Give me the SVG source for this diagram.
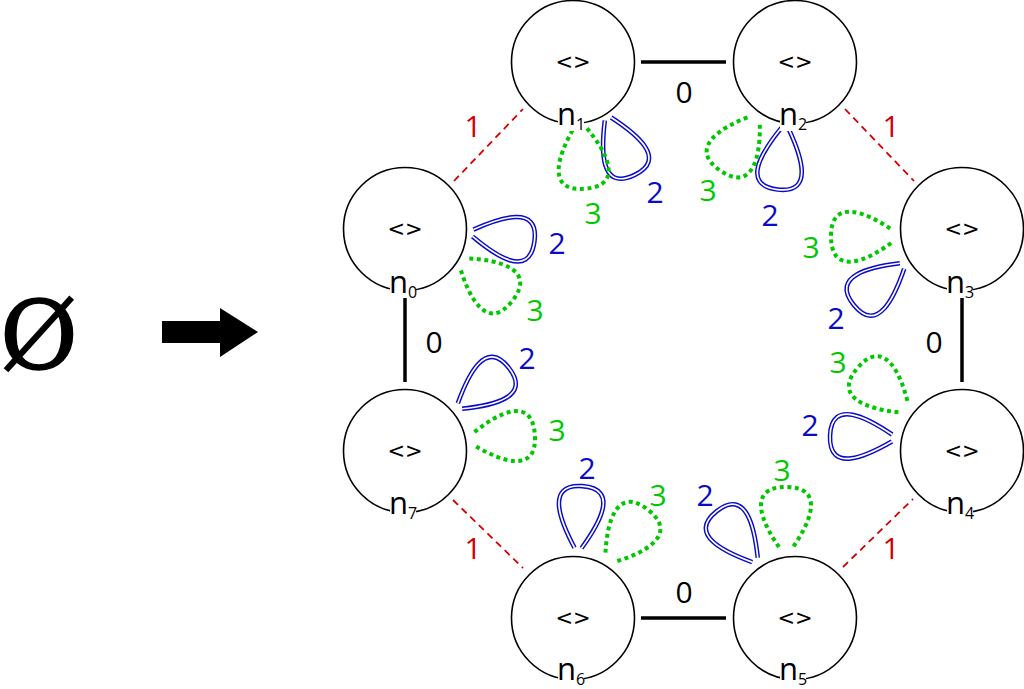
<svg xmlns="http://www.w3.org/2000/svg" xmlns:xlink="http://www.w3.org/1999/xlink" width="1024" height="689" viewBox="0 0 1024 689">
<style>
.node{fill:none;stroke:#000;stroke-width:1.6}
.nbg{fill:#fff;stroke:none}
.inner{font-family:"DejaVu Sans",sans-serif;font-size:21px;fill:#000;text-anchor:middle}
.nl{font-family:"Open Sans","Noto Sans",sans-serif;font-size:31px;fill:#000;text-anchor:middle}
.sub{font-size:16px}
.e0{stroke:#000;stroke-width:3.5;fill:none}
.e1{stroke:#d40000;stroke-width:1.8;stroke-dasharray:7 5;fill:none}
.bo{fill:none;stroke:#0a0ac8;stroke-width:4.6}
.bi{fill:none;stroke:#fff;stroke-width:1.7}
.gd{fill:none;stroke:#00c800;stroke-width:4;stroke-dasharray:4 3.5}
.lab{font-family:"Open Sans","Noto Sans",sans-serif;font-size:30px;text-anchor:middle}
.l0{fill:#000}.l1{fill:#d40000}.l2{fill:#0a0ac8}.l3{fill:#00c800}
</style>
<defs>
<g id="bl"><path class="bo" d="M0,-3.5 C24.8,-19 62,-38 62,0 C62,38 24.8,19 0,3.5"/><path class="bi" d="M0,-3.5 C24.8,-19 62,-38 62,0 C62,38 24.8,19 0,3.5"/></g>
<path id="gl" class="gd" d="M0,-7 C24,-24 60,-40 60,0 C60,40 24,24 0,7"/>
</defs>
<rect width="1024" height="689" fill="#fff"/>
<g id="start">
<text x="0" y="369" font-family="DejaVu Serif,serif" font-size="95" fill="#000" stroke="#000" stroke-width="1.4">Ø</text>
<polygon points="162,321 220,321 220,308 258,332 220,357 220,343 162,343" fill="#000"/>
</g>
<g id="connectors">
<line class="e0" x1="641" y1="62" x2="726" y2="62"/>
<line class="e0" x1="641" y1="618" x2="726" y2="618"/>
<line class="e0" x1="405" y1="297" x2="405" y2="382"/>
<line class="e0" x1="962" y1="297" x2="962" y2="382"/>
<line class="e1" x1="454" y1="181" x2="523" y2="109"/>
<line class="e1" x1="845" y1="109" x2="914" y2="181"/>
<line class="e1" x1="453" y1="500" x2="523" y2="568"/>
<line class="e1" x1="843" y1="567" x2="913" y2="499"/>
<text class="lab l0" x="684" y="103">0</text>
<text class="lab l0" x="684" y="603">0</text>
<text class="lab l0" x="434" y="353">0</text>
<text class="lab l0" x="934" y="353">0</text>
<text class="lab l1" x="473" y="137">1</text>
<text class="lab l1" x="891" y="137">1</text>
<text class="lab l1" x="473" y="559">1</text>
<text class="lab l1" x="891" y="559">1</text>
<use href="#bl" transform="translate(608,119) rotate(65)"/>
<use href="#gl" transform="translate(580,129) rotate(85)"/>
<text class="lab l3" x="593" y="224">3</text>
<text class="lab l2" x="655" y="203">2</text>
<use href="#bl" transform="translate(785,128) rotate(97)"/>
<use href="#gl" transform="translate(754,121) rotate(124)"/>
<text class="lab l2" x="770" y="226">2</text>
<text class="lab l3" x="708" y="201">3</text>
<use href="#bl" transform="translate(473,233) rotate(8)"/>
<use href="#gl" transform="translate(465,264) rotate(38)"/>
<text class="lab l2" x="557" y="254">2</text>
<text class="lab l3" x="535" y="321">3</text>
<use href="#bl" transform="translate(460,406) rotate(-38)"/>
<use href="#gl" transform="translate(475,439) rotate(-4)"/>
<text class="lab l2" x="527" y="369">2</text>
<text class="lab l3" x="557" y="441">3</text>
<use href="#gl" transform="translate(891,236) rotate(179)"/>
<use href="#bl" transform="translate(902,266) rotate(141)"/>
<text class="lab l3" x="811" y="258">3</text>
<text class="lab l2" x="836" y="329">2</text>
<use href="#gl" transform="translate(903,407) rotate(-139)"/>
<use href="#bl" transform="translate(892,438) rotate(182)"/>
<text class="lab l3" x="838" y="373">3</text>
<text class="lab l2" x="810" y="436">2</text>
<use href="#bl" transform="translate(578,548) rotate(-86)"/>
<use href="#gl" transform="translate(611,557) rotate(-52)"/>
<text class="lab l2" x="587" y="479">2</text>
<text class="lab l3" x="658" y="506">3</text>
<use href="#bl" transform="translate(755,560) rotate(-128)"/>
<use href="#gl" transform="translate(786,547) rotate(-90)"/>
<text class="lab l2" x="705" y="506">2</text>
<text class="lab l3" x="782" y="481">3</text>
</g>
<g id="n0"><circle class="node" cx="405" cy="229" r="61.5"/><text class="inner" x="405" y="236">&lt;&gt;</text><rect class="nbg" x="390" y="274" width="26" height="24"/><text class="nl" x="403" y="293">n<tspan class="sub" dy="5">0</tspan></text></g>
<g id="n1"><circle class="node" cx="573" cy="62" r="61.5"/><text class="inner" x="573" y="69">&lt;&gt;</text><rect class="nbg" x="558" y="107" width="26" height="24"/><text class="nl" x="571" y="125">n<tspan class="sub" dy="5">1</tspan></text></g>
<g id="n2"><circle class="node" cx="795" cy="62" r="61.5"/><text class="inner" x="795" y="69">&lt;&gt;</text><rect class="nbg" x="780" y="107" width="26" height="24"/><text class="nl" x="793" y="125">n<tspan class="sub" dy="5">2</tspan></text></g>
<g id="n3"><circle class="node" cx="962" cy="229" r="61.5"/><text class="inner" x="962" y="236">&lt;&gt;</text><rect class="nbg" x="947" y="274" width="26" height="24"/><text class="nl" x="960" y="293">n<tspan class="sub" dy="5">3</tspan></text></g>
<g id="n4"><circle class="node" cx="962" cy="451" r="61.5"/><text class="inner" x="962" y="458">&lt;&gt;</text><rect class="nbg" x="947" y="496" width="26" height="24"/><text class="nl" x="960" y="514">n<tspan class="sub" dy="5">4</tspan></text></g>
<g id="n5"><circle class="node" cx="795" cy="618" r="61.5"/><text class="inner" x="795" y="625">&lt;&gt;</text><rect class="nbg" x="780" y="663" width="26" height="24"/><text class="nl" x="793" y="680">n<tspan class="sub" dy="5">5</tspan></text></g>
<g id="n6"><circle class="node" cx="573" cy="618" r="61.5"/><text class="inner" x="573" y="625">&lt;&gt;</text><rect class="nbg" x="558" y="663" width="26" height="24"/><text class="nl" x="571" y="680">n<tspan class="sub" dy="5">6</tspan></text></g>
<g id="n7"><circle class="node" cx="405" cy="451" r="61.5"/><text class="inner" x="405" y="458">&lt;&gt;</text><rect class="nbg" x="390" y="496" width="26" height="24"/><text class="nl" x="403" y="514">n<tspan class="sub" dy="5">7</tspan></text></g>
</svg>
